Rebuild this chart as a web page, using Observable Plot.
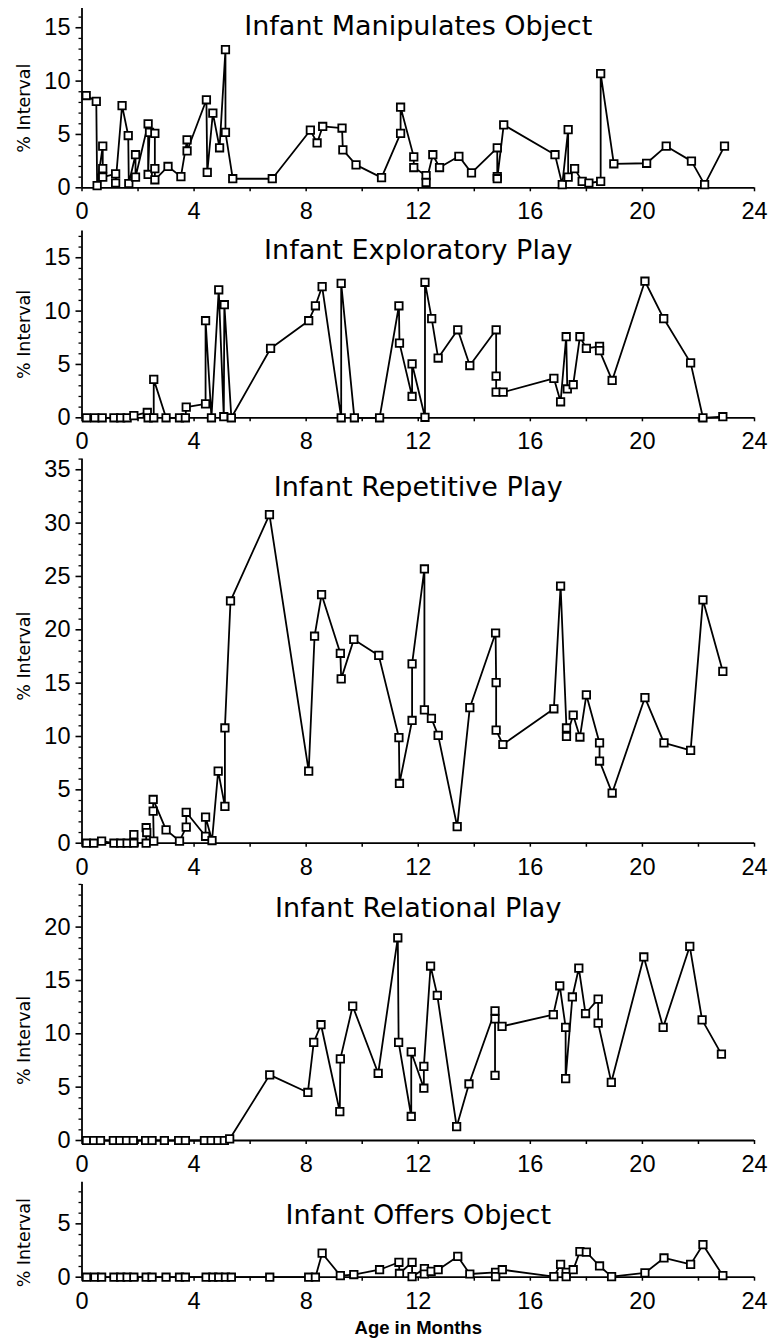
<!DOCTYPE html>
<html><head><meta charset="utf-8">
<script src="https://cdn.jsdelivr.net/npm/d3@7"></script>
<script src="https://cdn.jsdelivr.net/npm/@observablehq/plot@0.6"></script>
<style>
html,body{margin:0;padding:0;background:#fff;}
#chart{width:773px;height:1340px;overflow:hidden;}
#chart svg{display:block;}
</style></head><body><div id="chart"></div>
<script>
// ---- Data (age in months, % interval), in plotted order ----
const titles = ["Infant Manipulates Object","Infant Exploratory Play","Infant Repetitive Play","Infant Relational Play","Infant Offers Object"];
const yLabel = "% Interval";
const xLabel = "Age in Months";
const xTickValues = [0,4,8,12,16,20,24];

const manipAge = [0.15,0.51,0.54,0.74,0.74,0.74,1.2,1.2,1.43,1.65,1.67,1.91,1.91,2.36,2.36,2.41,2.6,2.6,2.6,3.07,3.53,3.75,3.75,4.44,4.47,4.67,4.91,5.12,5.12,5.38,6.79,8.15,8.39,8.59,9.28,9.31,9.78,10.69,11.37,11.37,11.84,11.84,12.28,12.28,12.52,12.76,13.45,13.9,14.82,14.82,14.82,15.05,16.88,17.14,17.35,17.35,17.58,17.85,18.09,18.51,18.51,18.98,20.15,20.85,21.75,22.22,22.93];
const manipPct = [8.65,8.1,0.2,3.9,1.8,1.0,1.3,0.45,7.7,4.9,0.4,3.1,1.0,6.0,1.25,5.2,5.1,1.8,0.75,2.0,1.05,4.5,3.45,8.25,1.45,7.0,3.75,12.95,5.2,0.85,0.85,5.4,4.2,5.75,5.6,3.55,2.15,0.95,5.1,7.55,2.9,1.9,1.15,0.5,3.1,1.9,2.95,1.4,3.75,1.05,0.85,5.9,3.1,0.3,5.45,1.0,1.8,0.6,0.45,0.6,10.7,2.25,2.3,3.9,2.5,0.3,3.9];

const explAge = [0.16,0.46,0.72,1.14,1.38,1.61,1.85,2.33,2.36,2.56,2.56,3.0,3.48,3.69,3.72,4.41,4.41,4.62,4.88,5.06,5.08,5.33,6.73,8.09,8.33,8.57,9.25,9.25,9.72,10.62,11.31,11.33,11.78,11.78,12.24,12.24,12.48,12.71,13.41,13.84,14.78,14.78,14.78,15.03,16.84,17.08,17.28,17.32,17.53,17.77,18.0,18.47,18.47,18.92,20.09,20.76,21.72,22.16,22.87];
const explPct = [0,0,0,0,0,0,0.2,0.5,0,0,3.6,0,0,0,1.0,1.3,9.1,0,12.0,0.1,10.6,0,6.5,9.1,10.5,12.3,0,12.6,0,0,10.5,7.0,2.0,5.05,0.05,12.7,9.3,5.6,8.25,4.9,8.25,3.9,2.4,2.4,3.7,1.5,7.6,2.7,3.1,7.6,6.5,6.7,6.3,3.5,12.8,9.3,5.15,0,0.1];

const repAge = [0.16,0.42,0.7,1.14,1.38,1.61,1.85,1.85,2.29,2.29,2.31,2.56,2.54,2.54,3.0,3.48,3.72,3.72,4.41,4.41,4.64,4.86,5.1,5.1,5.3,6.69,8.09,8.3,8.55,9.22,9.25,9.7,10.59,11.31,11.33,11.78,11.78,12.22,12.22,12.47,12.71,13.39,13.84,14.76,14.78,14.78,15.02,16.84,17.08,17.29,17.29,17.53,17.77,18.0,18.47,18.47,18.92,20.09,20.77,21.72,22.16,22.87];
const repPct = [0,0,0.2,0,0,0,0.8,0,0,1.45,1.0,0.2,3.0,4.1,1.25,0.2,1.5,2.9,0.65,2.45,0.25,6.75,3.45,10.8,22.7,30.8,6.75,19.4,23.3,17.8,15.4,19.1,17.6,9.9,5.6,11.5,16.8,25.7,12.5,11.7,10.1,1.55,12.7,19.7,15.05,10.6,9.25,12.6,24.1,10.8,10.0,12.0,9.95,13.9,9.4,7.7,4.7,13.65,9.4,8.7,22.8,16.1];

const relAge = [0.16,0.42,0.66,1.12,1.35,1.59,1.83,2.27,2.5,2.94,3.45,3.69,4.37,4.61,4.85,5.08,5.27,6.7,8.06,8.27,8.53,9.2,9.22,9.66,10.57,11.27,11.3,11.75,11.75,12.2,12.2,12.44,12.68,13.37,13.81,14.74,14.74,14.74,14.99,16.82,17.05,17.26,17.26,17.5,17.73,17.97,18.42,18.42,18.89,20.05,20.74,21.69,22.13,22.82];
const relPct = [0,0,0,0,0,0,0,0,0,0,0,0,0,0,0,0,0.15,6.15,4.5,9.2,10.85,2.7,7.65,12.6,6.3,19.0,9.2,2.25,8.3,4.9,6.95,16.35,13.6,1.3,5.3,12.15,6.1,11.4,10.7,11.8,14.5,10.6,5.8,13.45,16.15,11.9,13.25,11.0,5.45,17.2,10.6,18.2,11.3,8.1];

const offAge = [0.16,0.46,0.7,1.14,1.38,1.61,1.85,2.29,2.5,3.0,3.48,3.69,4.43,4.67,4.88,5.12,5.33,6.7,8.09,8.33,8.57,9.22,9.7,10.62,11.31,11.33,11.78,11.78,12.22,12.22,12.46,12.71,13.41,13.84,14.76,14.76,15.0,16.84,17.08,17.28,17.28,17.53,17.77,18.0,18.47,18.9,20.09,20.77,21.72,22.16,22.87];
const offPct = [0,0,0,0,0,0,0,0,0,0,0,0,0,0,0,0,0,0,0,0,2.25,0.15,0.25,0.7,1.4,0.35,1.4,0.05,0.8,0.3,0.55,0.7,1.95,0.3,0.45,0.05,0.7,0.05,1.2,0.45,0.05,0.7,2.4,2.35,1.05,0.05,0.4,1.8,1.2,3.05,0.15];

const series = [
  {ages: manipAge, pcts: manipPct, ymax: 16.8, yTicks: [0,5,10,15]},
  {ages: explAge, pcts: explPct, ymax: 17.5, yTicks: [0,5,10,15]},
  {ages: repAge, pcts: repPct, ymax: 36, yTicks: [0,5,10,15,20,25,30,35]},
  {ages: relAge, pcts: relPct, ymax: 24, yTicks: [0,5,10,15,20]},
  {ages: offAge, pcts: offPct, ymax: 8.9, yTicks: [0,5]}
];

// ---- Layout ----
const PX_PER_UNIT = 10.67;
const layout = [
  {svgTop: 0,    svgBottom: 222,  zeroY: 187.3,  titleDy: 26.3, labelDy: 10},
  {svgTop: 222,  svgBottom: 452,  zeroY: 417.3,  titleDy: 28,   labelDy: 10},
  {svgTop: 452,  svgBottom: 875,  zeroY: 842.7,  titleDy: 36.5, labelDy: 5},
  {svgTop: 875,  svgBottom: 1172, zeroY: 1140,   titleDy: 33,   labelDy: 28},
  {svgTop: 1172, svgBottom: 1340, zeroY: 1276.7, titleDy: 41.6, labelDy: 13}
];

const chart = document.getElementById("chart");
series.forEach((s, i) => {
  const L = layout[i];
  const plotTop = L.zeroY - s.ymax * PX_PER_UNIT;
  const data = s.ages.map((a, j) => ({age: a, pct: s.pcts[j]}));
  const minorY = d3.range(0, Math.floor(s.ymax) + 1).filter(v => v % 5 !== 0);
  const marks = [
    Plot.ruleY([0], {stroke: "black", strokeWidth: 1.8}),
    Plot.ruleX([{x: 0, y1: 0, y2: s.ymax}], {x: "x", y1: "y1", y2: "y2", stroke: "black", strokeWidth: 1.8}),
    Plot.axisY({ticks: s.yTicks, tickSize: 6, tickPadding: 5.5, tickFormat: d => String(d), label: null, strokeWidth: 1.6}),
    Plot.axisY({ticks: minorY, tickSize: 3, tickFormat: () => "", label: null, strokeWidth: 1.3}),
    Plot.axisX({ticks: xTickValues, tickSize: 0, tickPadding: 15, tickFormat: d => String(d), label: null}),
    Plot.axisX({ticks: d3.range(0, 25, 2), tickSize: 4, tickFormat: () => "", label: null, strokeWidth: 1.5}),
    Plot.text([titles[i]], {text: d => d, frameAnchor: "top", dy: L.titleDy, lineAnchor: "bottom", textAnchor: "middle", fontSize: 27, fontFamily: "DejaVu Sans"}),
    Plot.text([yLabel], {text: d => d, frameAnchor: "left", rotate: -90, dx: -57.5, dy: L.labelDy, textAnchor: "middle", lineAnchor: "middle", fontSize: 17.5, fontFamily: "DejaVu Sans"}),
    Plot.line(data, {x: "age", y: "pct", stroke: "black", strokeWidth: 1.8}),
    Plot.dot(data, {x: "age", y: "pct", symbol: "square", r: 4.2, fill: "white", stroke: "black", strokeWidth: 1.8})
  ];
  if (i === series.length - 1) {
    marks.push(Plot.text([xLabel], {text: d => d, frameAnchor: "bottom", dy: 57, lineAnchor: "bottom", textAnchor: "middle", fontSize: 18.5, fontWeight: "bold", fontFamily: "Liberation Sans"}));
  }
  const svg = Plot.plot({
    width: 773,
    height: L.svgBottom - L.svgTop,
    marginLeft: 81.5,
    marginRight: 19,
    marginTop: plotTop - L.svgTop,
    marginBottom: L.svgBottom - L.zeroY,
    x: {domain: [0, 24]},
    y: {domain: [0, s.ymax]},
    style: {background: "white", color: "black", fontFamily: "Liberation Sans, Arial, sans-serif", fontSize: "23.5px", overflow: "visible"},
    marks
  });
  chart.appendChild(svg);
});
</script></body></html>
